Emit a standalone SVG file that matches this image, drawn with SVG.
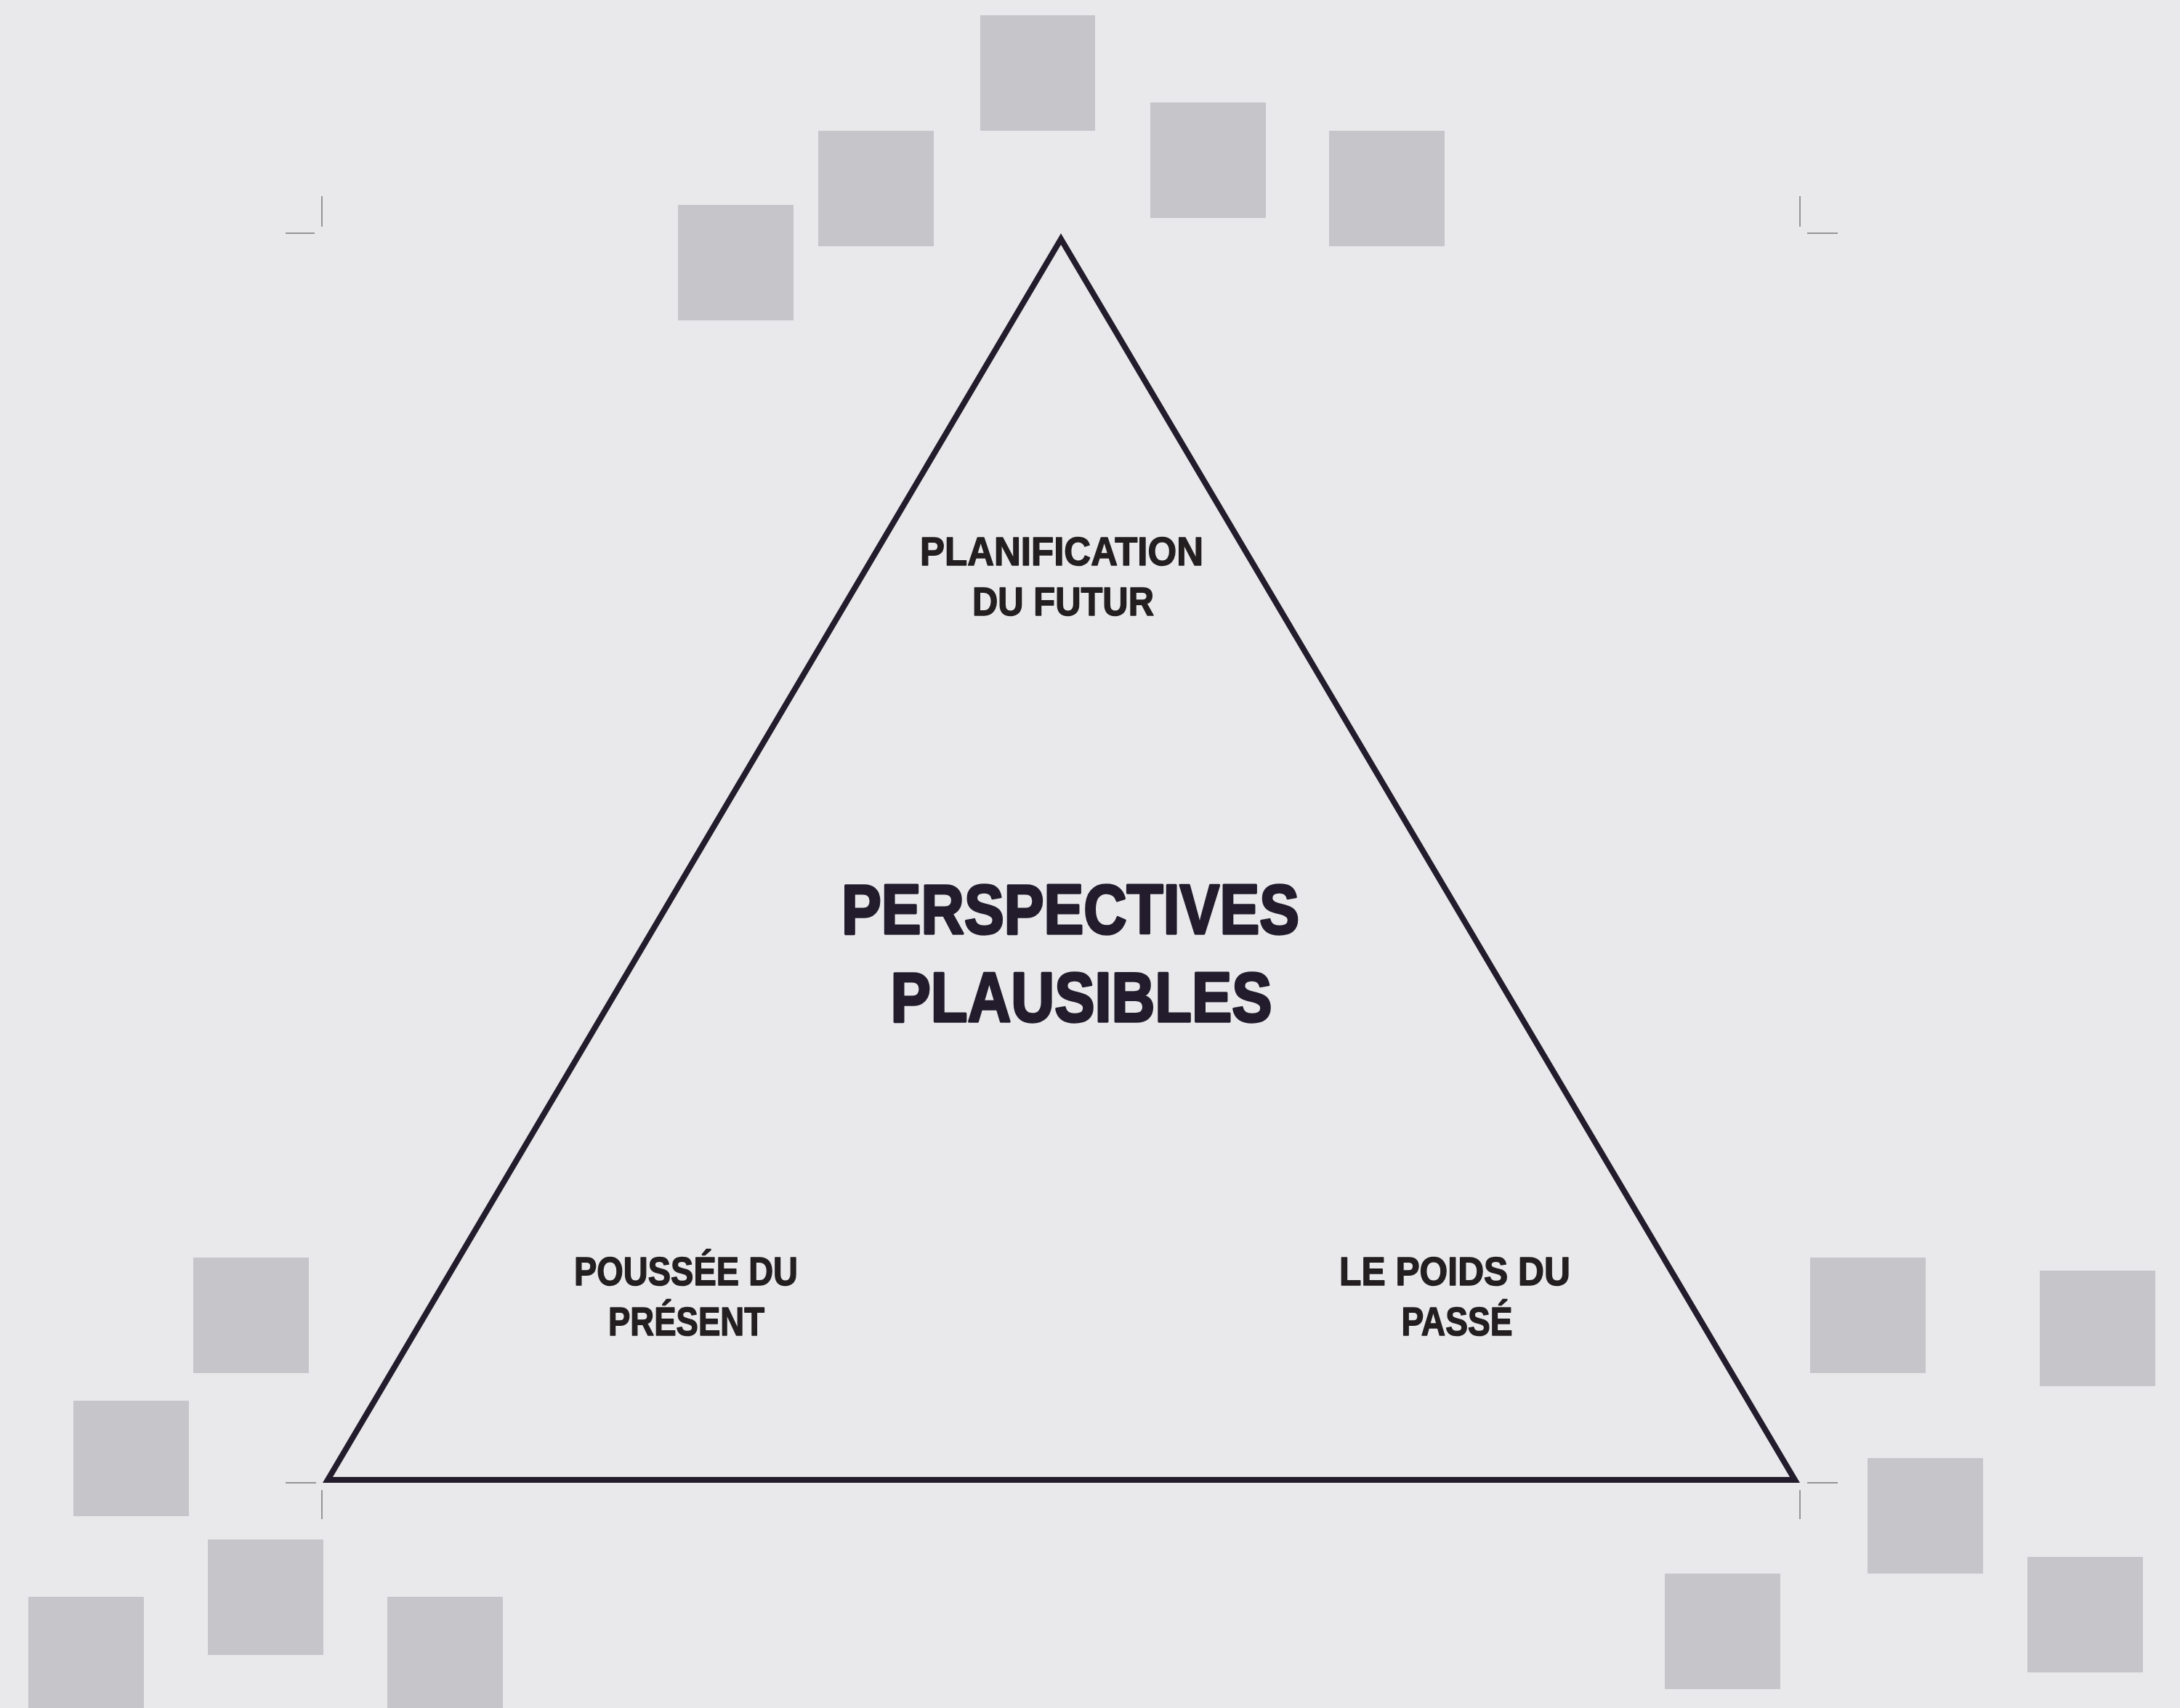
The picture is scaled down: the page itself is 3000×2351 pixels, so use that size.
<svg xmlns="http://www.w3.org/2000/svg" width="3000" height="2351" viewBox="0 0 3000 2351">
<style>
.sq{fill:#C6C5CA}
.mk{stroke:#7a7a7a;stroke-width:1.5;fill:none}
.tri{fill:none;stroke:#221C2C;stroke-width:8;stroke-linejoin:miter}
.big{font-family:"Liberation Sans",Arial,sans-serif;font-weight:bold;font-size:96px;fill:#221C2D;stroke:#221C2D;stroke-width:3.5;stroke-linejoin:round;text-anchor:middle}
.lab{font-family:"Liberation Sans",Arial,sans-serif;font-weight:bold;font-size:55px;fill:#231F20;stroke:#231F20;stroke-width:1.5;stroke-linejoin:round;text-anchor:middle}
</style>
<rect x="0" y="0" width="3000" height="2351" fill="#E9E9EB"/>
<g id="squares">
<rect class="sq" x="1349" y="21" width="158" height="159"/>
<rect class="sq" x="1126" y="180" width="159" height="159"/>
<rect class="sq" x="933" y="282" width="159" height="159"/>
<rect class="sq" x="1583" y="141" width="159" height="159"/>
<rect class="sq" x="1829" y="180" width="159" height="159"/>
<rect class="sq" x="266" y="1731" width="159" height="159"/>
<rect class="sq" x="101" y="1928" width="159" height="159"/>
<rect class="sq" x="286" y="2119" width="159" height="159"/>
<rect class="sq" x="39" y="2198" width="159" height="159"/>
<rect class="sq" x="533" y="2198" width="159" height="159"/>
<rect class="sq" x="2491" y="1731" width="159" height="159"/>
<rect class="sq" x="2807" y="1749" width="159" height="159"/>
<rect class="sq" x="2570" y="2007" width="159" height="159"/>
<rect class="sq" x="2291" y="2166" width="159" height="159"/>
<rect class="sq" x="2790" y="2143" width="159" height="159"/>
</g>
<g id="cropmarks">
<path class="mk" d="M443 270V312M393 321H433M2477 270V312M2487 321H2529M393 2041H435M443 2051V2091M2487 2041H2529M2477 2051V2091"/>
</g>
<g id="connectors">
<polygon id="triangle" class="tri" points="1460,329 2470,2037 451,2037"/>
</g>
<g id="center">
<text class="big" x="1473" y="1284.5" textLength="630" lengthAdjust="spacingAndGlyphs">PERSPECTIVES</text>
<text class="big" x="1488" y="1405.5" textLength="525" lengthAdjust="spacingAndGlyphs">PLAUSIBLES</text>
</g>
<g id="futur">
<text class="lab" x="1461" y="777.5" textLength="390" lengthAdjust="spacingAndGlyphs">PLANIFICATION</text>
<text class="lab" x="1463" y="847" textLength="250" lengthAdjust="spacingAndGlyphs">DU FUTUR</text>
</g>
<g id="present">
<text class="lab" x="944" y="1768.5" textLength="308" lengthAdjust="spacingAndGlyphs">POUSSÉE DU</text>
<text class="lab" x="944.5" y="1837.5" textLength="215" lengthAdjust="spacingAndGlyphs">PRÉSENT</text>
</g>
<g id="passe">
<text class="lab" x="2002" y="1768.5" textLength="318" lengthAdjust="spacingAndGlyphs">LE POIDS DU</text>
<text class="lab" x="2005" y="1837.5" textLength="153" lengthAdjust="spacingAndGlyphs">PASSÉ</text>
</g>
</svg>
